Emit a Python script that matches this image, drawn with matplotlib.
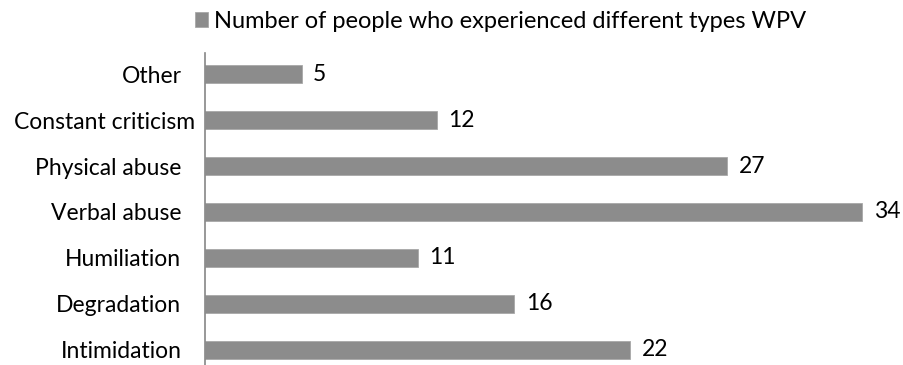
import matplotlib.pyplot as plt

# data, bottom to top
categories = ['Intimidation', 'Degradation', 'Humiliation', 'Verbal abuse',
              'Physical abuse', 'Constant criticism', 'Other']
counts = [22, 16, 11, 34, 27, 12, 5]
series_name = 'Number of people who experienced different types WPV'

plt.rcParams['font.family'] = ['Lato', 'DejaVu Sans']
fs = 16.5

fig = plt.figure(figsize=(9.04, 3.65), dpi=100)
ax = fig.add_axes([205 / 904, 0, 1 - 205 / 904 - 0.01, 1 - 53 / 365])

bars = ax.barh(range(len(categories)), counts, height=0.39,
               color='#8c8c8c', edgecolor='#a8a8a8', linewidth=0.6,
               label=series_name)

for i, v in enumerate(counts):
    ax.text(v + 0.6, i, str(v), va='center', ha='left', fontsize=fs, color='black')

ax.set_xlim(0, 35.7)
ax.set_ylim(-0.33, 6.46)
ax.set_yticks(range(len(categories)))
ax.set_yticklabels(categories, fontsize=fs)
ax.tick_params(axis='y', length=0, pad=17)
# the long label sits closer to the axis in the original
ax.yaxis.get_major_ticks()[5].set_pad(7)
ax.set_xticks([])
for s in ['top', 'right', 'bottom']:
    ax.spines[s].set_visible(False)
ax.spines['left'].set_color('#868686')
ax.spines['left'].set_linewidth(1.2)

fig.legend(handles=[bars], labels=[series_name], loc='upper left',
           bbox_to_anchor=(190 / 904, 1 - 6 / 365), frameon=False, fontsize=17,
           handlelength=0.55, handleheight=0.6, handletextpad=0.25,
           borderpad=0.2, borderaxespad=0)

fig.savefig('out.png', dpi=100)
